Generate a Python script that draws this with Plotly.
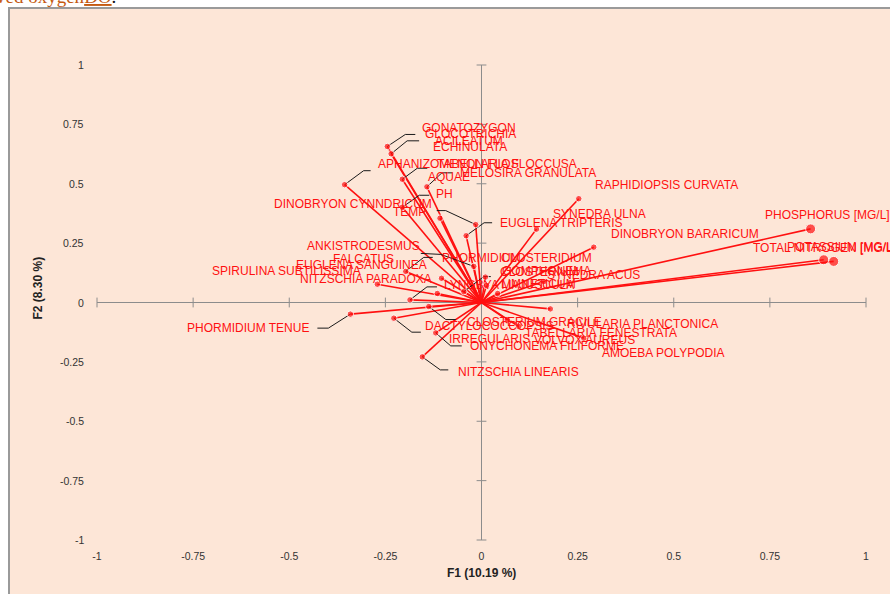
import plotly.graph_objects as go

# ---------------- data ----------------
names = [
    "GONATOZYGON ACILEATUM", "GLOCOTRICHIA ECHINULATA", "APHANIZOMENON FLOS AQUAE",
    "TABELLARIA FLOCCUSA", "MELOSIRA GRANULATA", "PH", "DINOBRYON CYNNDRICUM", "TEMP",
    "EUGLENA TRIPTERIS", "RAPHIDIOPSIS CURVATA", "SYNEDRA ULNA", "DINOBRYON BARARICUM",
    "PHOSPHORUS [MG/L]", "TOTAL NITROGEN [MG/L]", "POTASSIUM [MG/L]",
    "ANKISTRODESMUS FALCATUS", "EUGLENA SANGUINEA", "SPIRULINA SUBTILISSIMA",
    "NITZSCHIA PARADOXA", "PHORMIDIUM", "LYNGBYA MAJUSCULA", "PHORMIDIUM TENUE",
    "DACTYLOCOCCOPSIS IRREGULARIS", "CLOSTERIUM GRACILE", "ONYCHONEMA FILIFORME",
    "NITZSCHIA LINEARIS", "RIVULARIA PLANCTONICA", "TABELLARIA FENESTRATA",
    "VOLVOX AUREUS", "AMOEBA POLYPODIA", "SYNEDRA ACUS", "CLOSTERIUM", "GOMPHONEMA",
    "CLOSTERIDIUM", "LIMNETICUM",
]
f1 = [
    -0.245, -0.235, -0.356,
    -0.206, -0.142, -0.206, -0.108, -0.015,
    -0.040, 0.253, 0.143, 0.292,
    0.856, 0.890, 0.916,
    -0.020, -0.104, -0.271,
    -0.115, -0.197, -0.186, -0.341,
    -0.228, -0.137, -0.119,
    -0.154, 0.179, 0.097,
    0.067, 0.266, 0.162, -0.046, 0.010,
    0.013, 0.042,
]
f2 = [
    0.657, 0.626, 0.496,
    0.519, 0.487, 0.401, 0.355, 0.328,
    0.281, 0.437, 0.309, 0.233,
    0.310, 0.180, 0.173,
    0.152, 0.102, 0.077,
    0.038, 0.131, 0.011, -0.049,
    -0.066, -0.017, -0.128,
    -0.229, -0.027, -0.101,
    -0.073, -0.150, 0.088, 0.046, 0.107,
    0.072, 0.038,
]
tick_vals = [-1, -0.75, -0.5, -0.25, 0, 0.25, 0.5, 0.75, 1]
tick_text = ["-1", "-0.75", "-0.5", "-0.25", "0", "0.25", "0.5", "0.75", "1"]
x_title = "F1 (10.19 %)"
y_title = "F2 (8.30 %)"
header_text = "ved oxygen<u>DO</u>"

# ---------------- label placement (pixel offsets from each point) ----------------
# name: (lines, dx, dy, xanchor, leader (elbow dx, dy, end dx, dy) or None)
label_layout = {
    "GONATOZYGON ACILEATUM": (["GONATOZYGON", "ACILEATUM"], 82, -18, "center", (18, -12, 28, -12)),
    "GLOCOTRICHIA ECHINULATA": (["GLOCOTRICHIA", "ECHINULATA"], 79, -20, "center", (16, -13, 28, -13)),
    "APHANIZOMENON FLOS AQUAE": (["APHANIZOMENON FLOS", "AQUAE"], 104, -21, "center", (19, -14, 26, -14)),
    "TABELLARIA FLOCCUSA": (["TABELLARIA FLOCCUSA"], 33, -15, "left", (15, -11, 25, -11)),
    "MELOSIRA GRANULATA": (["MELOSIRA GRANULATA"], 31, -14, "left", (15, -14, 25, -14)),
    "PH": (["PH"], 32, -13, "left", (17, -12, 27, -12)),
    "DINOBRYON CYNNDRICUM": (["DINOBRYON CYNNDRICUM"], -6, -14, "right", None),
    "TEMP": (["TEMP"], -48, -13, "right", (-30, -14, -39, -14)),
    "EUGLENA TRIPTERIS": (["EUGLENA TRIPTERIS"], 32, -13, "left", (18, -13, 26, -13)),
    "RAPHIDIOPSIS CURVATA": (["RAPHIDIOPSIS CURVATA"], 14, -14, "left", None),
    "SYNEDRA ULNA": (["SYNEDRA ULNA"], 15, -15, "left", None),
    "DINOBRYON BARARICUM": (["DINOBRYON BARARICUM"], 15, -13, "left", None),
    "PHOSPHORUS [MG/L]": (["PHOSPHORUS [MG/L]"], -48, -14, "left", None),
    "TOTAL NITROGEN [MG/L]": (["TOTAL NITROGEN [MG/L]"], 74, -12, "right", None),
    "POTASSIUM [MG/L]": (["POTASSIUM [MG/L]"], 64, -14, "right", None),
    "ANKISTRODESMUS FALCATUS": (["ANKISTRODESMUS", "FALCATUS"], -110, -20, "center", (-33, -12, -53, -13)),
    "EUGLENA SANGUINEA": (["EUGLENA SANGUINEA"], -13, -13, "right", None),
    "SPIRULINA SUBTILISSIMA": (["SPIRULINA SUBTILISSIMA"], -14, -13, "right", None),
    "NITZSCHIA PARADOXA": (["NITZSCHIA PARADOXA"], -3, -14, "right", None),
    "PHORMIDIUM": (["PHORMIDIUM"], 34, -13, "left", (18, -14, 27, -14)),
    "LYNGBYA MAJUSCULA": (["LYNGBYA MAJUSCULA"], 32, -15, "left", (17, -13, 27, -13)),
    "PHORMIDIUM TENUE": (["PHORMIDIUM TENUE"], -39, 14, "right", (-22, 14, -33, 14)),
    "DACTYLOCOCCOPSIS IRREGULARIS": (["DACTYLOCOCCOPSIS", "IRREGULARIS"], 96, 8, "center", (18, 14, 27, 14)),
    "CLOSTERIUM GRACILE": (["CLOSTERIUM GRACILE"], 36, 15, "left", (17, 13, 27, 13)),
    "ONYCHONEMA FILIFORME": (["ONYCHONEMA FILIFORME"], 32, 13, "left", (15, 13, 26, 13)),
    "NITZSCHIA LINEARIS": (["NITZSCHIA LINEARIS"], 34, 15, "left", (18, 13, 26, 13)),
    "RIVULARIA PLANCTONICA": (["RIVULARIA PLANCTONICA"], 15, 15, "left", None),
    "TABELLARIA FENESTRATA": (["TABELLARIA FENESTRATA"], 4, 7, "left", None),
    "VOLVOX AUREUS": (["VOLVOX AUREUS"], 25, 20, "left", None),
    "AMOEBA POLYPODIA": (["AMOEBA POLYPODIA"], 16, 15, "left", None),
    "SYNEDRA ACUS": (["SYNEDRA ACUS"], 1, -7, "left", None),
    "CLOSTERIUM": (["CLOSTERIUM"], 34, -20, "left", (20, -15, 27, -15)),
    "GOMPHONEMA": (["GOMPHONEMA"], 15, -6, "left", None),
    "CLOSTERIDIUM": (["CLOSTERIDIUM"], 12, -27, "left", None),
    "LIMNETICUM": (["LIMNETICUM"], 1, -9, "left", None),
}
big_dots = {"PHOSPHORUS [MG/L]", "TOTAL NITROGEN [MG/L]", "POTASSIUM [MG/L]"}

# ---------------- geometry ----------------
W, H = 890, 594
ML, MR, MT, MB = 97, 24, 65, 54
px_x = (W - ML - MR) / 2.0   # pixels per unit on x
px_y = (H - MT - MB) / 2.0   # pixels per unit on y
LINE_H = 13

RED = "#FF1010"
AXIS_GREY = "#8C8C8C"
BG = "#FDE6D7"
FONT = "Liberation Sans, Arial, sans-serif"

fig = go.Figure()

# axis tick marks on the crossing axes
fig.add_trace(go.Scatter(
    x=tick_vals, y=[0] * len(tick_vals), mode="markers",
    marker=dict(symbol="line-ns", size=7, line=dict(color=AXIS_GREY, width=1)),
    hoverinfo="skip", cliponaxis=False))
fig.add_trace(go.Scatter(
    x=[0] * len(tick_vals), y=tick_vals, mode="markers",
    marker=dict(symbol="line-ew", size=7, line=dict(color=AXIS_GREY, width=1)),
    hoverinfo="skip", cliponaxis=False))

# vectors from origin
vx, vy = [], []
for a, b in zip(f1, f2):
    vx += [0, a, None]
    vy += [0, b, None]
fig.add_trace(go.Scatter(x=vx, y=vy, mode="lines",
                         line=dict(color=RED, width=1.6), hoverinfo="skip"))

# leader lines
lx, ly = [], []
for n, a, b in zip(names, f1, f2):
    lead = label_layout[n][4]
    if lead:
        ex, ey, tx, ty = lead
        lx += [a, a + ex / px_x, a + tx / px_x, None]
        ly += [b, b - ey / px_y, b - ty / px_y, None]
fig.add_trace(go.Scatter(x=lx, y=ly, mode="lines",
                         line=dict(color="#1a1a1a", width=1), hoverinfo="skip"))

# end points
fig.add_trace(go.Scatter(
    x=f1, y=f2, mode="markers", text=names,
    marker=dict(color=RED, size=[10 if n in big_dots else 6.5 for n in names]),
    hovertemplate="%{text}<br>F1=%{x}<br>F2=%{y}<extra></extra>"))

annotations = []
for n, a, b in zip(names, f1, f2):
    lines, dx, dy, xa, _ = label_layout[n]
    for k, t in enumerate(lines):
        annotations.append(dict(
            x=a, y=b, xref="x", yref="y", text=t, showarrow=False,
            xanchor=xa, yanchor="middle", xshift=dx, yshift=-(dy + LINE_H * k),
            font=dict(family=FONT, size=12, color=RED)))

# y tick labels (right-aligned left of the plot area)
for v, t in zip(tick_vals, tick_text):
    annotations.append(dict(x=0, y=v, xref="paper", yref="y", text=t, showarrow=False,
                            xanchor="right", yanchor="middle", xshift=-11,
                            font=dict(family=FONT, size=10.5, color="#333333")))

# axis titles
annotations.append(dict(x=0.5, y=0, xref="paper", yref="paper", text="<b>" + x_title + "</b>",
                        showarrow=False, xanchor="center", yanchor="middle", yshift=-33,
                        font=dict(family=FONT, size=12, color="#222222")))
annotations.append(dict(x=0, y=0.5, xref="paper", yref="paper", text="<b>" + y_title + "</b>",
                        showarrow=False, xanchor="center", yanchor="middle", textangle=-90,
                        xshift=-60, yshift=14,
                        font=dict(family=FONT, size=12, color="#222222")))

pw, ph = (W - ML - MR), (H - MT - MB)
# clipped document text above the chart
annotations.append(dict(x=(-6 - ML) / pw, y=1 + (MT - 9) / ph,
                        xref="paper", yref="paper",
                        text=header_text + "<span style='color:#111'>.</span>",
                        showarrow=False, xanchor="left", yanchor="bottom",
                        font=dict(family="Liberation Serif, serif", size=19, color="#C55A11")))

shapes = [dict(type="rect", xref="paper", yref="paper", layer="below",
               x0=(9 - ML) / pw, x1=(W + 10 - ML) / pw,
               y0=(H - MB - H - 10) / ph, y1=(H - MB - 8) / ph,
               fillcolor=BG, line=dict(color="#9A9A9A", width=2))]

axis_common = dict(range=[-1, 1], showgrid=False, zeroline=True, zerolinecolor=AXIS_GREY,
                   zerolinewidth=1, showline=False, ticks="outside",
                   tickcolor="rgba(0,0,0,0)", tickvals=tick_vals,
                   ticktext=tick_text, tickfont=dict(family=FONT, size=10.5, color="#333333"),
                   fixedrange=True)
fig.update_layout(
    width=W, height=H, margin=dict(l=ML, r=MR, t=MT, b=MB, autoexpand=False),
    paper_bgcolor="white", plot_bgcolor="rgba(0,0,0,0)", showlegend=False,
    xaxis=dict(**axis_common, ticklen=6),
    yaxis=dict(**axis_common, ticklen=9, showticklabels=False),
    annotations=annotations, shapes=shapes,
)
fig.write_html("out.html", config={"displayModeBar": False},
               post_script="document.body.style.margin='0';document.body.style.overflow='hidden';")
